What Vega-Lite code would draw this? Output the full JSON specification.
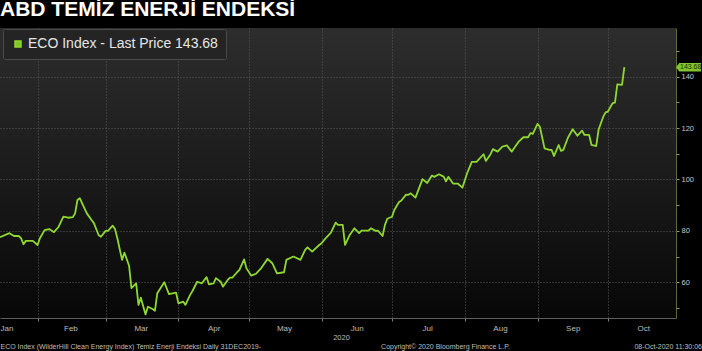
{
  "$schema": "https://vega.github.io/schema/vega-lite/v6.json",
  "width": 676,
  "height": 290,
  "autosize": {"type": "none"},
  "padding": {"left": 0, "top": 28, "right": 26, "bottom": 33},
  "background": "#000000",
  "config": {
    "view": {
      "stroke": null,
      "fill": {"gradient": "linear", "x1": 0, "y1": 0, "x2": 0, "y2": 1, "stops": [{"offset": 0, "color": "#2d2d2d"}, {"offset": 0.5, "color": "#1b1b1b"}, {"offset": 1, "color": "#070707"}]}
    },
    "font": "Liberation Sans",
    "axis": {"labelFont": "Liberation Sans", "titleFont": "Liberation Sans"}
  },
  "title": {
    "text": "ABD TEMİZ ENERJİ ENDEKSİ",
    "anchor": "start",
    "frame": "group",
    "orient": "top",
    "offset": 10,
    "dy": 19,
    "baseline": "alphabetic",
    "font": "Liberation Sans",
    "fontSize": 21,
    "fontWeight": "bold",
    "color": "#ffffff"
  },
  "datasets": {
    "eco": [
      {"date": "2020-01-16", "price": 77.5}, {"date": "2020-01-20", "price": 79.1}, {"date": "2020-01-22", "price": 78.0}, {"date": "2020-01-24", "price": 78.0}, {"date": "2020-01-25", "price": 77.1}, {"date": "2020-01-26", "price": 74.8}, {"date": "2020-01-27", "price": 76.1}, {"date": "2020-01-30", "price": 76.1},
      {"date": "2020-02-01", "price": 74.5}, {"date": "2020-02-02", "price": 77.1}, {"date": "2020-02-04", "price": 80.3}, {"date": "2020-02-06", "price": 80.7}, {"date": "2020-02-08", "price": 79.5}, {"date": "2020-02-10", "price": 81.6}, {"date": "2020-02-12", "price": 85.5}, {"date": "2020-02-14", "price": 85.1}, {"date": "2020-02-16", "price": 85.3}, {"date": "2020-02-17", "price": 86.8}, {"date": "2020-02-18", "price": 92.0}, {"date": "2020-02-19", "price": 92.7}, {"date": "2020-02-20", "price": 90.7}, {"date": "2020-02-22", "price": 86.8}, {"date": "2020-02-24", "price": 84.2}, {"date": "2020-02-25", "price": 83.0}, {"date": "2020-02-27", "price": 78.4}, {"date": "2020-02-28", "price": 77.7},
      {"date": "2020-03-01", "price": 80.0}, {"date": "2020-03-02", "price": 80.0}, {"date": "2020-03-04", "price": 82.0}, {"date": "2020-03-05", "price": 80.7}, {"date": "2020-03-06", "price": 77.1}, {"date": "2020-03-08", "price": 68.7}, {"date": "2020-03-09", "price": 71.5}, {"date": "2020-03-11", "price": 66.4}, {"date": "2020-03-12", "price": 57.7}, {"date": "2020-03-14", "price": 59.6}, {"date": "2020-03-15", "price": 51.2}, {"date": "2020-03-16", "price": 54.0}, {"date": "2020-03-18", "price": 47.5}, {"date": "2020-03-19", "price": 50.5}, {"date": "2020-03-21", "price": 49.6}, {"date": "2020-03-22", "price": 48.9}, {"date": "2020-03-23", "price": 55.7}, {"date": "2020-03-26", "price": 60.0}, {"date": "2020-03-28", "price": 55.4}, {"date": "2020-03-31", "price": 56.0},
      {"date": "2020-04-01", "price": 51.8}, {"date": "2020-04-03", "price": 52.5}, {"date": "2020-04-04", "price": 51.2}, {"date": "2020-04-06", "price": 55.1}, {"date": "2020-04-07", "price": 56.6}, {"date": "2020-04-09", "price": 60.2}, {"date": "2020-04-11", "price": 59.6}, {"date": "2020-04-13", "price": 62.0}, {"date": "2020-04-14", "price": 59.2}, {"date": "2020-04-16", "price": 59.6}, {"date": "2020-04-17", "price": 61.6}, {"date": "2020-04-19", "price": 60.2}, {"date": "2020-04-20", "price": 58.3}, {"date": "2020-04-22", "price": 60.9}, {"date": "2020-04-23", "price": 61.8}, {"date": "2020-04-24", "price": 61.8}, {"date": "2020-04-26", "price": 63.9}, {"date": "2020-04-27", "price": 64.8}, {"date": "2020-04-29", "price": 68.9}, {"date": "2020-04-30", "price": 65.4},
      {"date": "2020-05-02", "price": 62.6}, {"date": "2020-05-04", "price": 63.3}, {"date": "2020-05-06", "price": 65.2}, {"date": "2020-05-09", "price": 69.1}, {"date": "2020-05-11", "price": 67.4}, {"date": "2020-05-13", "price": 63.5}, {"date": "2020-05-16", "price": 63.9}, {"date": "2020-05-17", "price": 68.7}, {"date": "2020-05-20", "price": 70.0}, {"date": "2020-05-23", "price": 68.7}, {"date": "2020-05-25", "price": 72.6}, {"date": "2020-05-26", "price": 73.6}, {"date": "2020-05-28", "price": 71.9}, {"date": "2020-05-29", "price": 72.8}, {"date": "2020-05-31", "price": 74.5},
      {"date": "2020-06-01", "price": 75.2}, {"date": "2020-06-03", "price": 77.4}, {"date": "2020-06-05", "price": 79.3}, {"date": "2020-06-07", "price": 83.2}, {"date": "2020-06-08", "price": 82.3}, {"date": "2020-06-10", "price": 82.3}, {"date": "2020-06-11", "price": 74.5}, {"date": "2020-06-13", "price": 78.4}, {"date": "2020-06-15", "price": 81.0}, {"date": "2020-06-17", "price": 79.1}, {"date": "2020-06-18", "price": 80.1}, {"date": "2020-06-21", "price": 80.1}, {"date": "2020-06-22", "price": 81.0}, {"date": "2020-06-24", "price": 80.0}, {"date": "2020-06-25", "price": 80.1}, {"date": "2020-06-27", "price": 78.0}, {"date": "2020-06-28", "price": 82.3}, {"date": "2020-06-29", "price": 84.7},
      {"date": "2020-07-01", "price": 85.5}, {"date": "2020-07-02", "price": 88.1}, {"date": "2020-07-04", "price": 91.2}, {"date": "2020-07-05", "price": 91.8}, {"date": "2020-07-07", "price": 94.1}, {"date": "2020-07-08", "price": 94.0}, {"date": "2020-07-09", "price": 94.6}, {"date": "2020-07-11", "price": 92.9}, {"date": "2020-07-14", "price": 100.1}, {"date": "2020-07-16", "price": 98.6}, {"date": "2020-07-18", "price": 101.5}, {"date": "2020-07-19", "price": 101.0}, {"date": "2020-07-21", "price": 102.0}, {"date": "2020-07-23", "price": 101.1}, {"date": "2020-07-24", "price": 99.3}, {"date": "2020-07-25", "price": 101.0}, {"date": "2020-07-27", "price": 98.4}, {"date": "2020-07-29", "price": 98.4}, {"date": "2020-07-31", "price": 96.8},
      {"date": "2020-08-02", "price": 102.4}, {"date": "2020-08-04", "price": 106.8}, {"date": "2020-08-06", "price": 106.8}, {"date": "2020-08-09", "price": 109.8}, {"date": "2020-08-10", "price": 107.2}, {"date": "2020-08-12", "price": 109.8}, {"date": "2020-08-13", "price": 111.8}, {"date": "2020-08-15", "price": 110.8}, {"date": "2020-08-17", "price": 112.8}, {"date": "2020-08-19", "price": 113.2}, {"date": "2020-08-21", "price": 110.8}, {"date": "2020-08-22", "price": 112.1}, {"date": "2020-08-24", "price": 114.7}, {"date": "2020-08-26", "price": 116.4}, {"date": "2020-08-28", "price": 116.4}, {"date": "2020-08-29", "price": 118.0}, {"date": "2020-08-30", "price": 117.7},
      {"date": "2020-09-01", "price": 121.6}, {"date": "2020-09-02", "price": 120.5}, {"date": "2020-09-04", "price": 112.1}, {"date": "2020-09-06", "price": 111.5}, {"date": "2020-09-07", "price": 111.5}, {"date": "2020-09-08", "price": 109.1}, {"date": "2020-09-10", "price": 113.4}, {"date": "2020-09-11", "price": 111.1}, {"date": "2020-09-12", "price": 111.5}, {"date": "2020-09-14", "price": 116.3}, {"date": "2020-09-16", "price": 119.5}, {"date": "2020-09-18", "price": 117.0}, {"date": "2020-09-20", "price": 119.0}, {"date": "2020-09-21", "price": 117.3}, {"date": "2020-09-23", "price": 117.3}, {"date": "2020-09-24", "price": 113.4}, {"date": "2020-09-26", "price": 113.0}, {"date": "2020-09-27", "price": 119.3}, {"date": "2020-09-29", "price": 124.4}, {"date": "2020-09-30", "price": 126.1},
      {"date": "2020-10-01", "price": 126.4}, {"date": "2020-10-03", "price": 129.7}, {"date": "2020-10-04", "price": 129.9}, {"date": "2020-10-05", "price": 137.0}, {"date": "2020-10-07", "price": 136.8}, {"date": "2020-10-08", "price": 143.68}
    ],
    "last": [{"date": "2020-10-08", "price": 143.68}]
  },
  "layer": [
    {
      "data": {"name": "eco"},
      "mark": {"type": "line", "strokeWidth": 1.8, "strokeJoin": "round"},
      "encoding": {
        "x": {
          "field": "date",
          "type": "temporal",
          "scale": {"type": "utc", "domain": [{"year": 2020, "month": 1, "date": 16, "utc": true}, {"year": 2020, "month": 10, "date": 30, "utc": true}]},
          "axis": {
            "orient": "bottom",
            "values": [
              {"year": 2020, "month": 1, "date": 16, "utc": true}, {"year": 2020, "month": 2, "date": 15, "utc": true}, {"year": 2020, "month": 3, "date": 16, "utc": true}, {"year": 2020, "month": 4, "date": 16, "utc": true}, {"year": 2020, "month": 5, "date": 16, "utc": true},
              {"year": 2020, "month": 6, "date": 16, "utc": true}, {"year": 2020, "month": 7, "date": 16, "utc": true}, {"year": 2020, "month": 8, "date": 16, "utc": true}, {"year": 2020, "month": 9, "date": 16, "utc": true}, {"year": 2020, "month": 10, "date": 16, "utc": true}
            ],
            "format": "%b",
            "ticks": false,
            "grid": false,
            "domain": false,
            "labelFlush": true,
            "labelOverlap": false,
            "labelPadding": 6,
            "labelFontSize": 8,
            "labelColor": "#bdbdbd",
            "title": "2020",
            "titleX": 341,
            "titleY": 19,
            "titleAlign": "center",
            "titleBaseline": "middle",
            "titleFontSize": 7.5,
            "titleFontWeight": "normal",
            "titleColor": "#bdbdbd"
          }
        },
        "y": {
          "field": "price",
          "type": "quantitative",
          "scale": {"domain": [46.1, 158.9], "nice": false, "zero": false},
          "axis": {
            "orient": "right",
            "values": [60, 80, 100, 120, 140],
            "labelOverlap": false,
            "grid": true,
            "gridColor": "#5a5a5a",
            "gridDash": [1, 2],
            "domainColor": "#5b6b30",
            "tickColor": "#909090",
            "tickSize": 3,
            "labelPadding": 2,
            "labelFontSize": 7.5,
            "labelColor": "#c8c8c8",
            "title": "08-Oct-2020 11:30:06",
            "titleAngle": 0,
            "titleX": 25.5,
            "titleY": 318,
            "titleAlign": "right",
            "titleBaseline": "middle",
            "titleFontSize": 7,
            "titleFontWeight": "normal",
            "titleColor": "#bdbdbd"
          }
        },
        "color": {
          "datum": "ECO Index - Last Price 143.68",
          "scale": {"range": ["#8fd82f"]},
          "legend": {
            "orient": "none",
            "legendX": 3,
            "legendY": 1,
            "title": null,
            "symbolType": "square",
            "symbolSize": 36,
            "labelFont": "Liberation Sans",
            "labelFontSize": 14,
            "labelLimit": 0,
            "labelColor": "#e6e6e6",
            "labelOffset": 3,
            "padding": 8,
            "fillColor": "#242424",
            "strokeColor": "#4a4a4a",
            "cornerRadius": 2,
            "encode": {"symbols": {"update": {"fill": {"value": "#7fc62a"}, "stroke": {"value": "transparent"}}}}
          }
        }
      }
    },
    {
      "data": {"name": "last"},
      "mark": {"type": "point", "shape": "M0,0L0.26,-0.34L2,-0.34L2,0.34L0.26,0.34Z", "filled": true, "size": 625, "color": "#7fc62a", "opacity": 1},
      "encoding": {
        "x": {
          "datum": {"year": 2020, "month": 10, "date": 30, "utc": true},
          "type": "temporal",
          "axis": {
            "orient": "bottom",
            "values": [
              {"year": 2020, "month": 2, "date": 1, "utc": true}, {"year": 2020, "month": 3, "date": 1, "utc": true}, {"year": 2020, "month": 4, "date": 1, "utc": true}, {"year": 2020, "month": 5, "date": 1, "utc": true},
              {"year": 2020, "month": 6, "date": 1, "utc": true}, {"year": 2020, "month": 7, "date": 1, "utc": true}, {"year": 2020, "month": 8, "date": 1, "utc": true}, {"year": 2020, "month": 9, "date": 1, "utc": true}, {"year": 2020, "month": 10, "date": 1, "utc": true}
            ],
            "labels": false,
            "ticks": true,
            "tickSize": 3,
            "tickColor": "#808080",
            "grid": true,
            "gridColor": "#5a5a5a",
            "gridDash": [1, 2],
            "domain": true,
            "domainColor": "#5e5e5e",
            "title": "ECO Index (WilderHill Clean Energy Index) Temiz Enerji Endeksi  Daily 31DEC2019-",
            "titleX": 0,
            "titleY": 28,
            "titleAlign": "left",
            "titleBaseline": "middle",
            "titleFontSize": 7,
            "titleFontWeight": "normal",
            "titleColor": "#bdbdbd"
          }
        },
        "y": {
          "field": "price",
          "type": "quantitative",
          "axis": {
            "orient": "right",
            "values": [50, 70, 90, 110, 130, 150],
            "labels": false,
            "grid": false,
            "domain": false,
            "ticks": true,
            "tickSize": 3,
            "tickColor": "#909090",
            "title": null
          }
        }
      }
    },
    {
      "data": {"name": "last"},
      "mark": {"type": "text", "align": "left", "baseline": "middle", "dx": 4, "fontSize": 7, "font": "Liberation Sans", "color": "#143000"},
      "encoding": {
        "x": {
          "datum": {"year": 2020, "month": 10, "date": 30, "utc": true},
          "type": "temporal",
          "axis": {
            "orient": "bottom",
            "labels": false,
            "ticks": false,
            "grid": false,
            "domain": false,
            "title": "Copyright© 2020 Bloomberg Finance L.P.",
            "titleX": 445,
            "titleY": 28,
            "titleAlign": "center",
            "titleBaseline": "middle",
            "titleFontSize": 7,
            "titleFontWeight": "normal",
            "titleColor": "#bdbdbd"
          }
        },
        "y": {"field": "price", "type": "quantitative", "axis": null},
        "text": {"field": "price", "type": "quantitative", "format": ".2f"}
      }
    }
  ],
  "resolve": {"axis": {"x": "independent", "y": "independent"}}
}
